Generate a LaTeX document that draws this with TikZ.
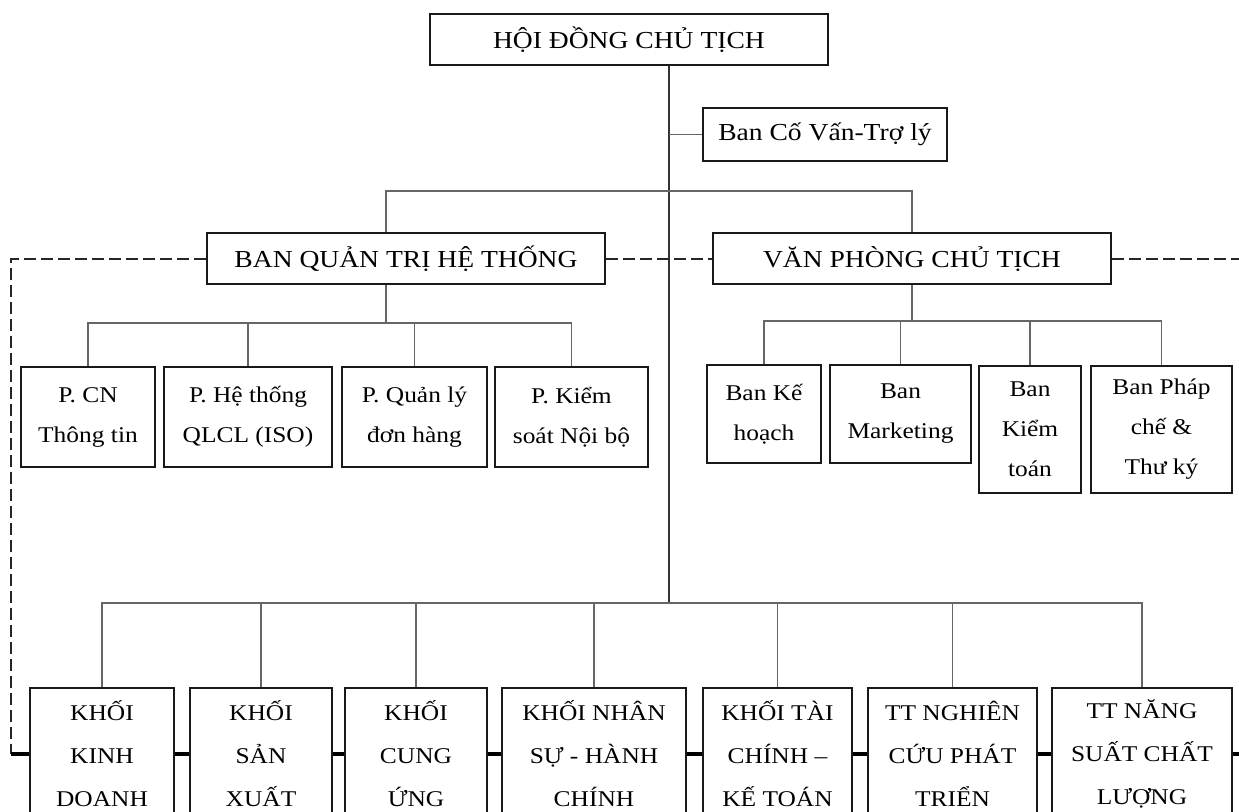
\documentclass[tikz,border=0pt]{standalone}
\usepackage{fontspec}
\setmainfont{Liberation Serif}[FakeStretch=1.13]
\begin{document}
\begin{tikzpicture}[x=0.5pt,y=-0.5pt,
  box/.style={draw=black!90, line width=1pt, inner sep=0pt, align=center, fill=white,
    font=\fontsize{11.25}{20}\selectfont},
  titlebox/.style={box, font=\fontsize{12.2}{20}\selectfont},
  lowbox/.style={box, font=\fontsize{11.25}{21.5}\selectfont, minimum height=66pt},
  conn/.style={draw=black!60, line width=0.6pt},
  trunkline/.style={draw=black!80, line width=0.8pt},
  dashline/.style={draw=black!85, line width=1.1pt, dash pattern=on 6pt off 2.5pt},
  thickline/.style={draw=black, line width=1.6pt}]
\useasboundingbox (0,0) rectangle (1239,812);
\clip (0,0) rectangle (1239,812);
\fill[white] (0,0) rectangle (1239,812);

% top level
\node[titlebox, minimum width=199pt, minimum height=25.5pt] (hdct) at (629,39.5) {HỘI ĐỒNG CHỦ TỊCH};
\node[titlebox, minimum width=122pt, minimum height=26.5pt] (bcv) at (825,134.5) {Ban Cố Vấn-Trợ lý};
\node[titlebox, minimum width=199pt, minimum height=25.5pt] (bqt) at (406,259) {BAN QUẢN TRỊ HỆ THỐNG};
\node[titlebox, minimum width=199pt, minimum height=25.5pt] (vpct) at (912,259) {VĂN PHÒNG CHỦ TỊCH};

% BQT children
\node[box, minimum width=67pt, minimum height=50pt] (pcn) at (88,417) {P. CN\\Thông tin};
\node[box, minimum width=84pt, minimum height=50pt] (pht) at (248,417) {P. Hệ thống\\QLCL (ISO)};
\node[box, minimum width=72.5pt, minimum height=50pt] (pql) at (414.5,417) {P. Quản lý\\đơn hàng};
\node[box, minimum width=76.5pt, minimum height=50pt] (pks) at (571.5,417) {P. Kiểm\\soát Nội bộ};

% VPCT children
\node[box, minimum width=57pt, minimum height=49pt] (bkh) at (764,414) {Ban Kế\\hoạch};
\node[box, minimum width=70.5pt, minimum height=49pt] (bmk) at (900.5,414) {Ban\\Marketing};
\node[box, minimum width=51pt, minimum height=63.5pt] (bkt) at (1030,429.5) {Ban\\Kiểm\\toán};
\node[box, minimum width=70.5pt, minimum height=63.5pt] (bpc) at (1161.5,429.5) {Ban Pháp\\chế \&\\Thư ký};

% bottom row
\node[lowbox, minimum width=72pt] (kd) at (102,754) {KHỐI\\KINH\\DOANH};
\node[lowbox, minimum width=71pt] (sx) at (261,754) {KHỐI\\SẢN\\XUẤT};
\node[lowbox, minimum width=71pt] (cu) at (416,754) {KHỐI\\CUNG\\ỨNG};
\node[lowbox, minimum width=92pt] (ns) at (594,754) {KHỐI NHÂN\\SỰ - HÀNH\\CHÍNH};
\node[lowbox, minimum width=74.5pt] (tc) at (777.5,754) {KHỐI TÀI\\CHÍNH –\\KẾ TOÁN};
\node[lowbox, minimum width=84.5pt] (nc) at (952.5,754) {TT NGHIÊN\\CỨU PHÁT\\TRIỂN};
\node[lowbox, minimum width=90pt] (nsc) at (1142,754) {TT NĂNG\\SUẤT CHẤT\\LƯỢNG};

% coordinates
\coordinate (tt) at ([xshift=20pt]hdct.south);
\coordinate (j1) at (669,191);
\coordinate (bqtbus) at (386,323);
\coordinate (vpbus) at (912,321);
\coordinate (lowbus) at (669,603);
\coordinate (dl) at (11,259);
\coordinate (redge) at (1250,259);

% trunk
\draw[trunkline] (tt) -- (lowbus);
\draw[conn] (tt |- bcv.west) -- (bcv.west);
\draw[conn] ([xshift=-10pt]bqt.north) |- (j1) -| (vpct.north);

% BQT subtree
\draw[conn] ([xshift=-10pt]bqt.south) -- (bqtbus);
\foreach \n in {pcn,pht,pql,pks} \draw[conn] (bqtbus) -| (\n.north);

% VPCT subtree
\draw[conn] (vpct.south) -- (vpbus);
\foreach \n in {bkh,bmk,bkt,bpc} \draw[conn] (vpbus) -| (\n.north);

% bottom subtree
\foreach \n in {kd,sx,cu,ns,tc,nc,nsc} \draw[conn] (lowbus) -| (\n.north);

% dashed links
\draw[dashline] (bqt.west) -| (kd.west -| dl);
\draw[thickline] (kd.west -| dl) -- (kd.west);
\draw[dashline] (bqt.east) -- (vpct.west);
\draw[dashline] (vpct.east) -- (vpct.east -| redge);

% thick links between bottom boxes
\draw[thickline] (kd.east) -- (sx.west);
\draw[thickline] (sx.east) -- (cu.west);
\draw[thickline] (cu.east) -- (ns.west);
\draw[thickline] (ns.east) -- (tc.west);
\draw[thickline] (tc.east) -- (nc.west);
\draw[thickline] (nc.east) -- (nsc.west);
\draw[thickline] (nsc.east) -- (nsc.east -| redge);
\end{tikzpicture}
\end{document}
